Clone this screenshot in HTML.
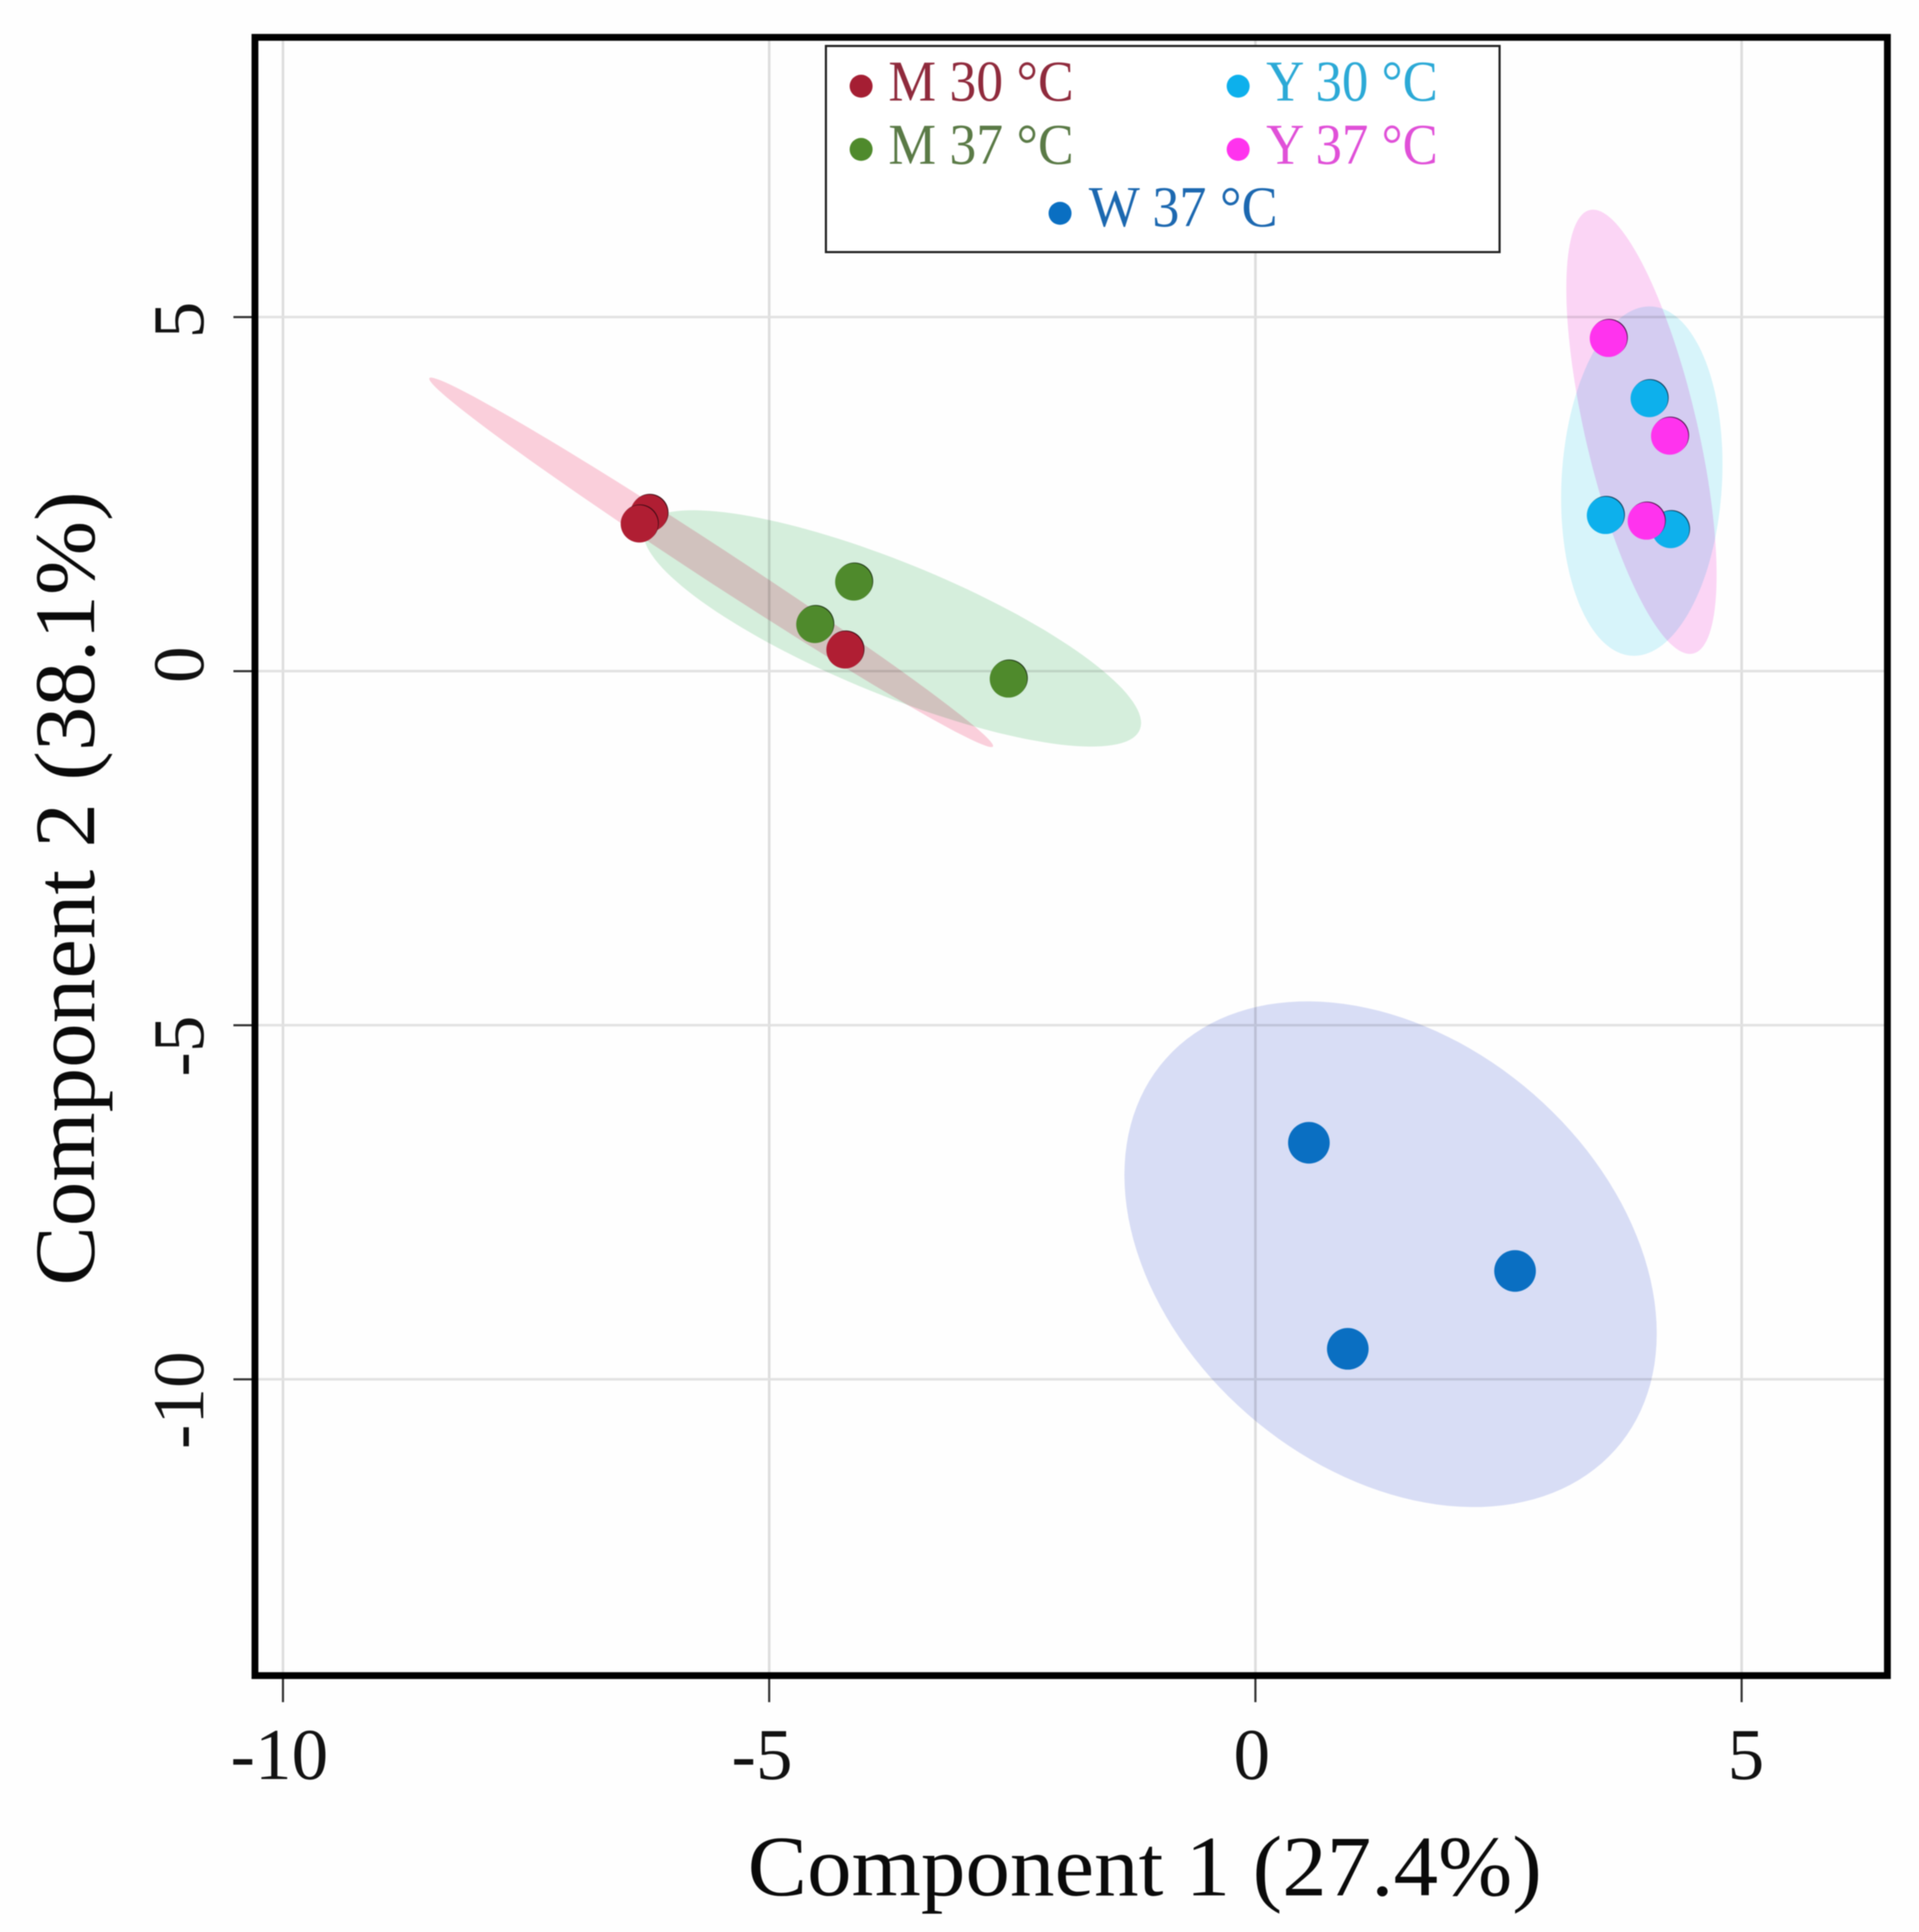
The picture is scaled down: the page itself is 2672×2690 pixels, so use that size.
<!DOCTYPE html>
<html lang="en">
<head>
<meta charset="utf-8">
<title>PCA score plot</title>
<style>
html,body{margin:0;padding:0;background:#fff;}
svg{display:block;filter:blur(0.9px);}
text{font-family:"Liberation Serif",serif;}
.ell{mix-blend-mode:multiply;}
</style>
</head>
<body>
<svg id="chart" xmlns="http://www.w3.org/2000/svg" width="2672" height="2690" viewBox="0 0 2672 2690">
  <rect x="0" y="0" width="2672" height="2690" fill="#fefefe"/>
  <g id="ellipses"></g>
  <g id="grid" class="ell"></g>
  <g id="ticks"></g>
  <g id="points"></g>
  <rect x="355" y="52" width="2273" height="2281" fill="none" stroke="#000" stroke-width="9.5"/>
  <text x="1041" y="2639" font-size="120" fill="#0a0a0a" textLength="1106" lengthAdjust="spacingAndGlyphs">Component 1 (27.4%)</text>
  <text transform="translate(131 1790) rotate(-90)" font-size="120" fill="#0a0a0a" textLength="1106" lengthAdjust="spacingAndGlyphs">Component 2 (38.1%)</text>
  <g>
    <rect x="1150" y="64" width="938" height="287" fill="#fff" stroke="#222" stroke-width="3"/>
    <g>
      <circle cx="1199" cy="120" r="16" fill="#a51e33"/>
      <text x="1237" y="140" font-size="80" fill="#8f2a3c" textLength="258" lengthAdjust="spacingAndGlyphs">M 30 °C</text>
    </g>
    <g>
      <circle cx="1199" cy="208" r="16" fill="#4f8a2c"/>
      <text x="1237" y="228" font-size="80" fill="#5a7a46" textLength="258" lengthAdjust="spacingAndGlyphs">M 37 °C</text>
    </g>
    <g>
      <circle cx="1724" cy="120" r="16" fill="#0db0ec"/>
      <text x="1763" y="140" font-size="80" fill="#2ba9d6" textLength="239" lengthAdjust="spacingAndGlyphs">Y 30 °C</text>
    </g>
    <g>
      <circle cx="1724" cy="208" r="16" fill="#ff33ee"/>
      <text x="1763" y="228" font-size="80" fill="#e050d8" textLength="239" lengthAdjust="spacingAndGlyphs">Y 37 °C</text>
    </g>
    <g>
      <circle cx="1476" cy="297" r="16" fill="#0a6fc2"/>
      <text x="1516" y="315" font-size="80" fill="#1c68b0" textLength="263" lengthAdjust="spacingAndGlyphs">W 37 °C</text>
    </g>
  </g>
</svg>
<script>
// Data
var xTicks = [-10, -5, 0, 5];
var yTicks = [5, 0, -5, -10];
var m30X = [-6.235, -6.335, -4.22];
var m30Y = [2.23, 2.08, 0.30];
var m37X = [-4.13, -4.53, -2.54];
var m37Y = [1.26, 0.66, -0.11];
var y30X = [4.05, 3.60, 4.27];
var y30Y = [3.85, 2.20, 2.00];
var y37X = [3.63, 4.26, 4.02];
var y37Y = [4.70, 3.32, 2.12];
var w37X = [0.55, 2.67, 0.95];
var w37Y = [-6.66, -8.47, -9.57];

// Axis functions
var X_DOMAIN = [-10.288, 6.499], X_RANGE = [355, 2628];
var Y_DOMAIN = [8.950, -14.184], Y_RANGE = [52, 2333];
function sx(v){ return X_RANGE[0] + (v - X_DOMAIN[0]) / (X_DOMAIN[1] - X_DOMAIN[0]) * (X_RANGE[1] - X_RANGE[0]); }
function sy(v){ return Y_RANGE[0] + (v - Y_DOMAIN[0]) / (Y_DOMAIN[1] - Y_DOMAIN[0]) * (Y_RANGE[1] - Y_RANGE[0]); }

var NS = 'http://www.w3.org/2000/svg';
function make(tag, parent){
  var el = document.createElementNS(NS, tag);
  parent.appendChild(el);
  return el;
}
function mean(a){ return a.reduce(function(s, v){ return s + v; }, 0) / a.length; }

var gridG = document.getElementById('grid');
var tickG = document.getElementById('ticks');
var ellG = document.getElementById('ellipses');
var ptG = document.getElementById('points');

xTicks.forEach(function(v){
  var g = make('line', gridG);
  
  
  g.setAttribute('x1', sx(v)); g.setAttribute('x2', sx(v));
  g.setAttribute('y1', Y_RANGE[0]); g.setAttribute('y2', Y_RANGE[1]);
  g.setAttribute('stroke', '#dedede'); g.setAttribute('stroke-width', 3.6);
  var t = make('line', tickG);
  
  
  t.setAttribute('x1', sx(v)); t.setAttribute('x2', sx(v));
  t.setAttribute('y1', Y_RANGE[1]); t.setAttribute('y2', Y_RANGE[1] + 37);
  t.setAttribute('stroke', '#333'); t.setAttribute('stroke-width', 3);
  var l = make('text', tickG);
  
  
  var off = v > 0 ? 6 : (v === -5 ? -10 : -5);
  l.setAttribute('x', sx(v) + off); l.setAttribute('y', 2477);
  l.setAttribute('text-anchor', 'middle'); l.setAttribute('font-size', 102); l.setAttribute('fill', '#111');
  l.textContent = String(v);
});
yTicks.forEach(function(v){
  var g = make('line', gridG);
  
  
  g.setAttribute('x1', X_RANGE[0]); g.setAttribute('x2', X_RANGE[1]);
  g.setAttribute('y1', sy(v)); g.setAttribute('y2', sy(v));
  g.setAttribute('stroke', '#e2e2e2'); g.setAttribute('stroke-width', 3.4);
  var t = make('line', tickG);
  
  
  t.setAttribute('x1', X_RANGE[0] - 30); t.setAttribute('x2', X_RANGE[0]);
  t.setAttribute('y1', sy(v)); t.setAttribute('y2', sy(v));
  t.setAttribute('stroke', '#333'); t.setAttribute('stroke-width', 3);
  var l = make('text', tickG);
  
  
  var off = v < 0 ? 29 : (v > 0 ? 4 : -9);
  l.setAttribute('transform', 'translate(283 ' + (sy(v) + off) + ') rotate(-90)');
  l.setAttribute('text-anchor', 'middle'); l.setAttribute('font-size', 102); l.setAttribute('fill', '#111');
  l.textContent = String(v);
});

// 95% ellipse from sample covariance of a group's points
var CHI = 2.43;
function ellipsePath(xs, ys){
  var mx = mean(xs), my = mean(ys), n = xs.length, sxx = 0, syy = 0, sxy = 0;
  for (var i = 0; i < n; i++){
    sxx += (xs[i] - mx) * (xs[i] - mx);
    syy += (ys[i] - my) * (ys[i] - my);
    sxy += (xs[i] - mx) * (ys[i] - my);
  }
  sxx /= n - 1; syy /= n - 1; sxy /= n - 1;
  var l11 = Math.sqrt(sxx), l21 = sxy / l11, l22 = Math.sqrt(Math.max(syy - l21 * l21, 0));
  var d = '';
  for (var k = 0; k < 144; k++){
    var t = k / 144 * 2 * Math.PI, c = Math.cos(t), s = Math.sin(t);
    var dx = mx + CHI * l11 * c;
    var dy = my + CHI * (l21 * c + l22 * s);
    d += (k ? 'L' : 'M') + sx(dx).toFixed(1) + ' ' + sy(dy).toFixed(1);
  }
  return d + 'Z';
}

function drawEllipse(xs, ys, fill, name){
  var p = make('path', ellG);
  
  
  p.setAttribute('class', 'ell');
  p.setAttribute('d', ellipsePath(xs, ys));
  p.setAttribute('fill', fill);
}
function drawPoints(xs, ys, fill, r, edge, name){
  xs.forEach(function(x, i){
    if (edge){
      var e = make('circle', ptG);
      
      
      e.setAttribute('cx', sx(x) + 1); e.setAttribute('cy', sy(ys[i]) - 1);
      e.setAttribute('r', r); e.setAttribute('fill', edge);
    }
    var c = make('circle', ptG);
    
    
    c.setAttribute('cx', sx(x)); c.setAttribute('cy', sy(ys[i]));
    c.setAttribute('r', r); c.setAttribute('fill', fill);
  });
}

drawEllipse(w37X, w37Y, '#d9def6', 'ellipse-w-37');
drawEllipse(m37X, m37Y, '#d6efdd', 'ellipse-m-37');
drawEllipse(m30X, m30Y, '#fbd0dc', 'ellipse-m-30');
drawEllipse(y30X, y30Y, '#d8f5fb', 'ellipse-y-30');
drawEllipse(y37X, y37Y, '#fcd6f6', 'ellipse-y-37');

drawPoints(w37X, w37Y, '#0a6fc2', 29, null, 'point-w-37');
drawPoints(m37X, m37Y, '#4f8a2c', 26, '#1d3314', 'point-m-37');
drawPoints(m30X, m30Y, '#b01e33', 26, '#3a0a12', 'point-m-30');
drawPoints(y30X, y30Y, '#0db0ec', 26, '#0d3a55', 'point-y-30');
drawPoints(y37X, y37Y, '#ff33ee', 26, '#4a1048', 'point-y-37');
</script>
</body>
</html>
